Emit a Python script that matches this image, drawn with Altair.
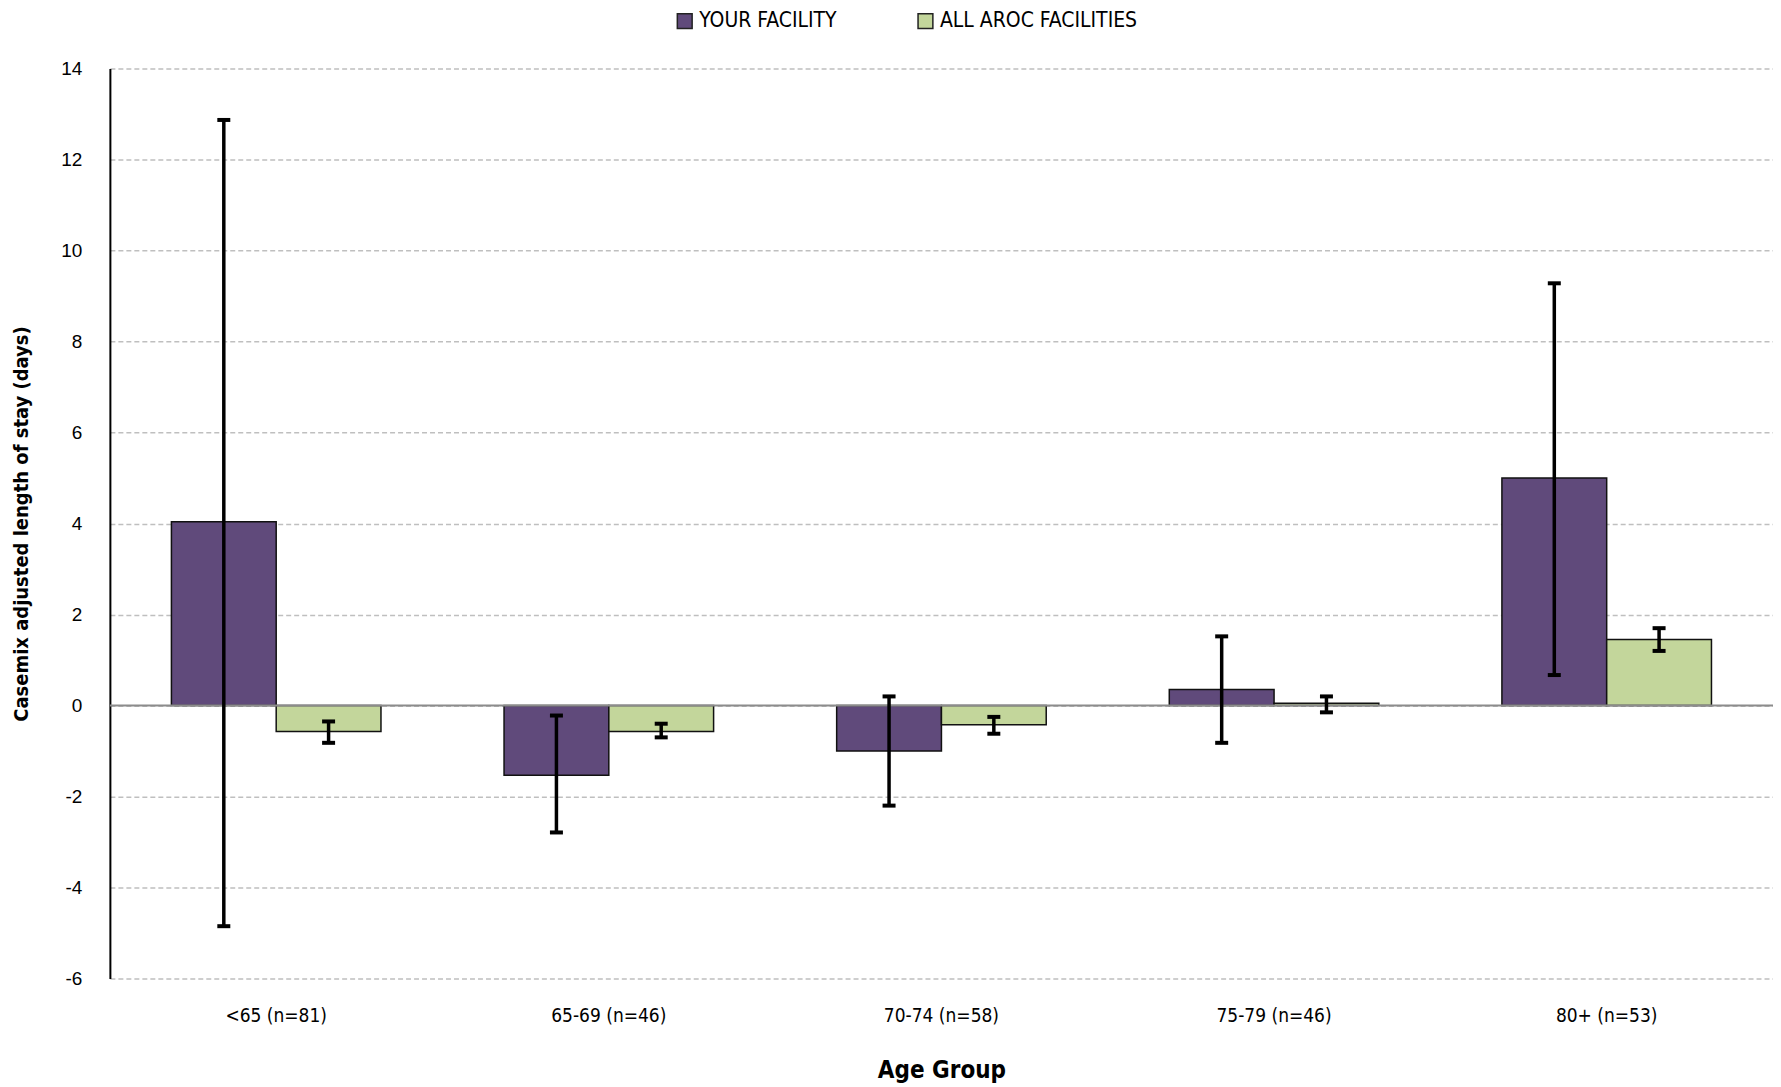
import altair as alt
import pandas as pd

categories = ["<65 (n=81)", "65-69 (n=46)", "70-74 (n=58)", "75-79 (n=46)", "80+ (n=53)"]
series = ["YOUR FACILITY", "ALL AROC FACILITIES"]
your_vals = [4.04, -1.53, -1.0, 0.35, 5.0]
your_lo = [-4.85, -2.79, -2.2, -0.82, 0.67]
your_hi = [12.87, -0.22, 0.2, 1.52, 9.28]
all_vals = [-0.57, -0.57, -0.42, 0.05, 1.45]
all_lo = [-0.82, -0.7, -0.62, -0.15, 1.2]
all_hi = [-0.35, -0.4, -0.25, 0.2, 1.7]
colors = ["#604a7b", "#c3d69b"]

rows = []
for i, c in enumerate(categories):
    rows.append({"cat": c, "series": series[0], "v": your_vals[i], "lo": your_lo[i], "hi": your_hi[i]})
    rows.append({"cat": c, "series": series[1], "v": all_vals[i], "lo": all_lo[i], "hi": all_hi[i]})
df = pd.DataFrame(rows)

W, H = 1665, 911
NARROW = "DejaVu Sans Condensed"

x = alt.X("cat:N", sort=categories, title="Age Group",
          scale=alt.Scale(paddingInner=0.37, paddingOuter=0.185),
          axis=alt.Axis(labelAngle=0, labelFont=NARROW, labelFontSize=19, labelColor="#000",
                        labelPadding=28, domain=False, ticks=False,
                        titleFont=NARROW, titleFontSize=24, titleFontWeight="bold",
                        titleColor="#000", titlePadding=33))
xo = alt.XOffset("series:N", sort=series, scale=alt.Scale(paddingInner=0, paddingOuter=0))
y_scale = alt.Scale(domain=[-6, 14])
y = alt.Y("v:Q", scale=y_scale, title="Casemix adjusted length of stay (days)",
          axis=alt.Axis(values=list(range(-6, 15, 2)), grid=True, gridDash=[5, 3],
                        gridColor="#bfbfbf", gridWidth=1.5, ticks=False,
                        domainColor="#000", domainWidth=2,
                        labelExpr="'' + datum.value",
                        labelFont="Liberation Sans", labelFontSize=19, labelColor="#000",
                        labelPadding=28,
                        titleFont=NARROW, titleFontSize=20, titleFontWeight="bold",
                        titleColor="#000", titlePadding=29))

color = alt.Color("series:N", sort=series,
                  scale=alt.Scale(domain=series, range=colors),
                  legend=alt.Legend(title=None, orient="none", direction="horizontal",
                                    legendX=565, legendY=-58, symbolType="square",
                                    symbolSize=220, symbolStrokeColor="#222",
                                    symbolStrokeWidth=1.5, labelFont=NARROW,
                                    labelFontSize=21, labelColor="#000", columnPadding=78,
                                    labelLimit=400, labelOffset=4, symbolOpacity=1))

bars = alt.Chart(df).mark_bar(stroke="#111", strokeWidth=1.5, opacity=1).encode(
    x=x, xOffset=xo, y=y, y2=alt.datum(0), color=color)

zero = alt.Chart(pd.DataFrame({"z": [0]})).mark_rule(color="#8c8c8c", strokeWidth=2).encode(
    y=alt.Y("z:Q", scale=y_scale), x=alt.value(0), x2=alt.value(W))

err = alt.Chart(df).mark_rule(color="#000", strokeWidth=3.5).encode(
    x=alt.X("cat:N", sort=categories), xOffset=xo,
    y=alt.Y("lo:Q", scale=y_scale), y2="hi:Q")
cap_lo = alt.Chart(df).mark_tick(color="#000", thickness=4, size=13, opacity=1).encode(
    x=alt.X("cat:N", sort=categories), xOffset=xo, y=alt.Y("lo:Q", scale=y_scale))
cap_hi = alt.Chart(df).mark_tick(color="#000", thickness=4, size=13, opacity=1).encode(
    x=alt.X("cat:N", sort=categories), xOffset=xo, y=alt.Y("hi:Q", scale=y_scale))

chart = alt.layer(bars, zero, err, cap_lo, cap_hi).properties(
    width=W, height=H,
    autosize=alt.AutoSizeParams(type="none"),
    padding={"left": 102, "top": 60, "right": 0, "bottom": 106},
).configure_view(stroke=None).configure_axis(labelFontWeight="normal")

chart.save("out.html", embed_options={"renderer": "svg", "actions": False})
